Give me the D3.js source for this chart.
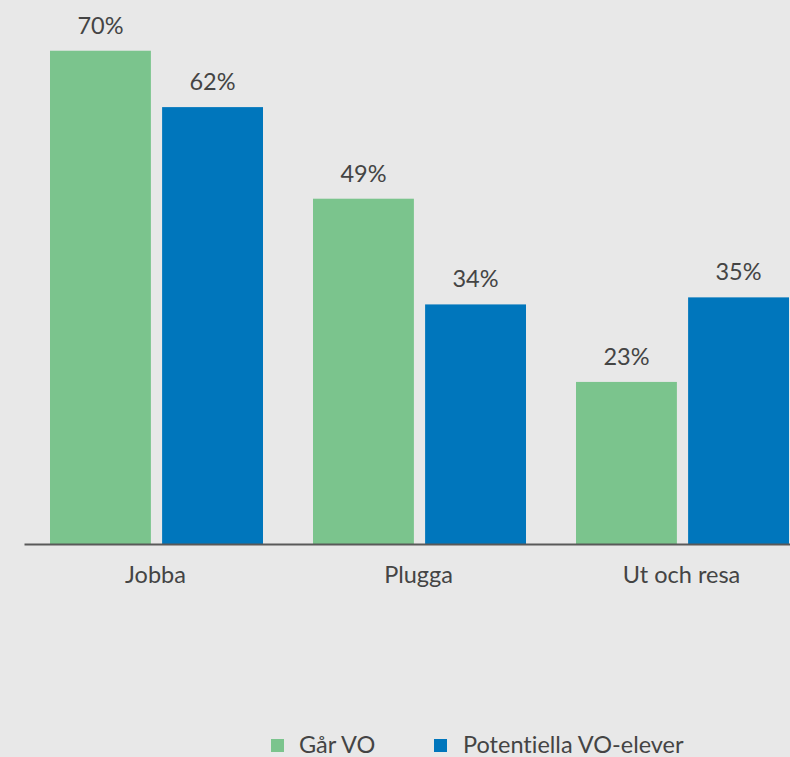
<!DOCTYPE html>
<html lang="sv">
<head>
<meta charset="utf-8">
<title>VO</title>
<script src="https://cdn.jsdelivr.net/npm/d3@7"></script>
<style>
  body { margin: 0; background: #e8e8e8; }
  svg { display: block; font-family: Lato, sans-serif; font-weight: 400; font-variant-ligatures: none; }
</style>
</head>
<body>
<div id="chart"></div>
<script>
// data
var categories = ["Jobba", "Plugga", "Ut och resa"];
var seriesNames = ["Går VO", "Potentiella VO-elever"];
var garVO = [70, 49, 23];
var potentiella = [62, 34, 35];
var colors = ["#7bc48d", "#0076bc"];

var width = 790, height = 757;
var baseline = 544;
var fs = 23.5;

var svg = d3.select("#chart").append("svg")
    .attr("width", width)
    .attr("height", height);

svg.append("rect").attr("width", width).attr("height", height).attr("fill", "#e8e8e8");

var x0 = d3.scaleBand()
    .domain(categories)
    .range([24, 813])
    .paddingInner(0)
    .paddingOuter(0);

var x1 = d3.scaleBand()
    .domain(seriesNames)
    .range([26, x0.bandwidth() - 24])
    .paddingInner(0.1);

var y = d3.scaleLinear()
    .domain([0, 77.2])
    .range([baseline, 0]);

var rows = categories.map(function(c, i) {
    return {cat: c, vals: [garVO[i], potentiella[i]]};
});

var groups = svg.selectAll("g.grp")
    .data(rows)
    .enter()
    .append("g")
    .attr("class", "grp")
    .attr("transform", function(d) { return "translate(" + x0(d.cat) + ",0)"; });

groups.selectAll("rect")
    .data(function(d) { return d.vals.map(function(v, j) { return {name: seriesNames[j], v: v, j: j}; }); })
    .enter()
    .append("rect")
    .attr("x", function(d) { return x1(d.name); })
    .attr("y", function(d) { return y(d.v); })
    .attr("width", x1.bandwidth())
    .attr("height", function(d) { return baseline - y(d.v); })
    .attr("fill", function(d) { return colors[d.j]; });

groups.selectAll("text.val")
    .data(function(d) { return d.vals.map(function(v, j) { return {name: seriesNames[j], v: v}; }); })
    .enter()
    .append("text")
    .attr("class", "val")
    .attr("x", function(d) { return x1(d.name) + x1.bandwidth() / 2; })
    .attr("y", function(d) { return y(d.v) - 17; })
    .attr("text-anchor", "middle")
    .attr("font-size", fs)
    .attr("fill", "#444")
    .text(function(d) { return d.v + "%"; });

// x axis
var xAxis = d3.axisBottom(x0).tickSize(0).tickPadding(22);
var ax = svg.append("g")
    .attr("transform", "translate(0," + baseline + ")")
    .call(xAxis);
ax.select(".domain").attr("stroke", "#595959").attr("stroke-width", 2);
ax.selectAll("text").attr("font-size", fs).attr("fill", "#444")
    .attr("font-family", "Lato, sans-serif").attr("font-weight", 400);

// legend
var legX = [271, 434];
var leg = svg.selectAll("g.leg")
    .data(seriesNames)
    .enter()
    .append("g")
    .attr("class", "leg")
    .attr("transform", function(d, i) { return "translate(" + legX[i] + ",739)"; });
leg.append("rect").attr("width", 13).attr("height", 13)
    .attr("fill", function(d, i) { return colors[i]; });
leg.append("text")
    .attr("x", function(d, i) { return i === 0 ? 28 : 29; })
    .attr("y", 14)
    .attr("font-size", fs)
    .attr("fill", "#444")
    .text(function(d) { return d; });
</script>
</body>
</html>
